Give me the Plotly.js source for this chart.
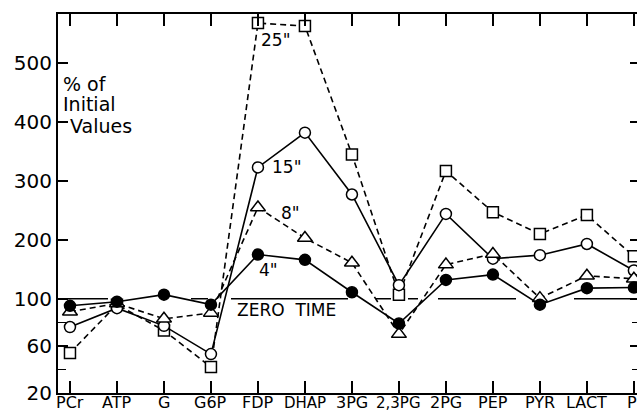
<!DOCTYPE html>
<html>
<head>
<meta charset="utf-8">
<script src="https://cdn.plot.ly/plotly-3.0.1.min.js"></script>
<style>
html,body{margin:0;padding:0;background:#fff;overflow:hidden;width:637px;height:413px;}
#chart{width:645px;height:413px;}
</style>
</head>
<body>
<div id="chart"></div>
<script>
// Categories (metabolites)
var categories = ["PCr","ATP","G","G6P","FDP","DHAP","3PG","2,3PG","2PG","PEP","PYR","LACT","Pi"];
var loweredLabels = ["DHAP", "2,3PG"];
// % of initial values
var sec4  = [94, 97.5, 107, 95, 175, 166, 111, 79, 132, 141, 95, 118, 119];
var sec8  = [89, 96, 83, 88, 255, 203, 161, 70, 158, 176, 101, 139, 134];
var sec15 = [76, 92, 77, 53, 323, 382, 277, 123, 244, 168, 174, 193, 148];
var sec25 = [54, 95, 73, 42, 568, 563, 345, 107, 317, 247, 210, 242, 172];
var seriesNames = ['4"', '8"', '15"', '25"'];
var yTickValues = [20, 60, 100, 200, 300, 400, 500];
var yTickText = ["20", "60", "100", "200", "300", "400", "500"];
var yMinorTicks = [40, 80];
var zeroTimeValue = 100;

// broken scale: below 100 one unit is twice as tall as above 100
function tr(v){ return v <= 100 ? v : 100 + (v - 100) / 2; }
var xIdx = categories.map(function(_, i){ return i; });

var font = "DejaVu Sans, Verdana, sans-serif";
function mk(vals, name, symbol, fill, dash, size){
  return {
    x: xIdx, y: vals.map(tr), name: name, type: "scatter", mode: "lines+markers",
    line: {color: "#000", width: 1.6, dash: dash},
    marker: {symbol: symbol, size: size, color: fill, line: {color: "#000", width: 1.5}},
    hoverinfo: "skip", cliponaxis: false
  };
}
var traces = [
  // zero time reference line (broken, hand-drawn look)
  {x: [-0.255, 12.2], y: [tr(zeroTimeValue), tr(zeroTimeValue)], mode: "lines", type: "scatter",
   line: {color: "#000", width: 1.7, dash: "50px,83px,17px,23px,117px,28px,15px,17px,10px,20px,78px,58px,90px"},
   hoverinfo: "skip", showlegend: false},
  mk(sec25, seriesNames[3], "square", "#fff", "6px,4px", 11),
  mk(sec15, seriesNames[2], "circle", "#fff", "solid", 11),
  mk(sec8,  seriesNames[1], "triangle-up", "#fff", "6px,4px", 13),
  mk(sec4,  seriesNames[0], "circle", "#000", "solid", 11)
];

function ann(text, x, y, size, anchor){
  return {text: text, x: x, y: y, xref: "x", yref: "y", showarrow: false, borderpad: 0,
    xanchor: anchor || "center", yanchor: "middle", font: {family: font, size: size, color: "#000"}};
}
var annotations = [
  ann('25"', 4.38, 320, 17),
  ann('15"', 4.6, 212, 17),
  ann('8"', 4.7, 173, 17),
  ann('4"', 4.23, 124.5, 17),
  ann("ZERO  TIME", 4.6, 90.5, 17),
  ann("% of", -0.17, 282.6, 19, "left"),
  ann("Initial", -0.17, 265.5, 19, "left"),
  ann("Values", -0.03, 247, 19, "left")
];
// category labels under the axis
categories.forEach(function(c, i){
  var low = loweredLabels.indexOf(c) >= 0;
  annotations.push({
    text: c, x: i, xref: "x", y: 0, yref: "paper", yshift: -20,
    xanchor: "center", yanchor: "bottom", showarrow: false, borderpad: 0,
    font: {family: font, size: low ? 15 : 16, color: "#000"}
  });
});

var layout = {
  width: 645, height: 413,
  margin: {l: 58, r: 5, t: 14, b: 20, pad: 0},
  paper_bgcolor: "#fff", plot_bgcolor: "#fff",
  showlegend: false,
  font: {family: font, color: "#000"},
  xaxis: {
    range: [-0.255, 12.13], tickmode: "array", tickvals: xIdx, showticklabels: false,
    showgrid: false, zeroline: false, showline: true, linecolor: "#000", linewidth: 2,
    mirror: "allticks", ticks: "inside", ticklen: 12, tickwidth: 1.6, tickcolor: "#000"
  },
  yaxis: {
    range: [20, 341.7], tickmode: "array", tickvals: yTickValues.map(tr), ticktext: yTickText,
    showgrid: false, zeroline: false, showline: true, linecolor: "#000", linewidth: 2,
    mirror: "allticks", ticks: "inside", ticklen: 10, tickwidth: 1.6, tickcolor: "#000",
    tickfont: {family: font, size: 20, color: "#000"},
    minor: {tickmode: "array", tickvals: yMinorTicks.map(tr), ticks: "inside", ticklen: 8, tickwidth: 1.4, tickcolor: "#000", showgrid: false}
  },
  annotations: annotations
};
Plotly.newPlot("chart", traces, layout, {staticPlot: true, displayModeBar: false});
</script>
</body>
</html>
